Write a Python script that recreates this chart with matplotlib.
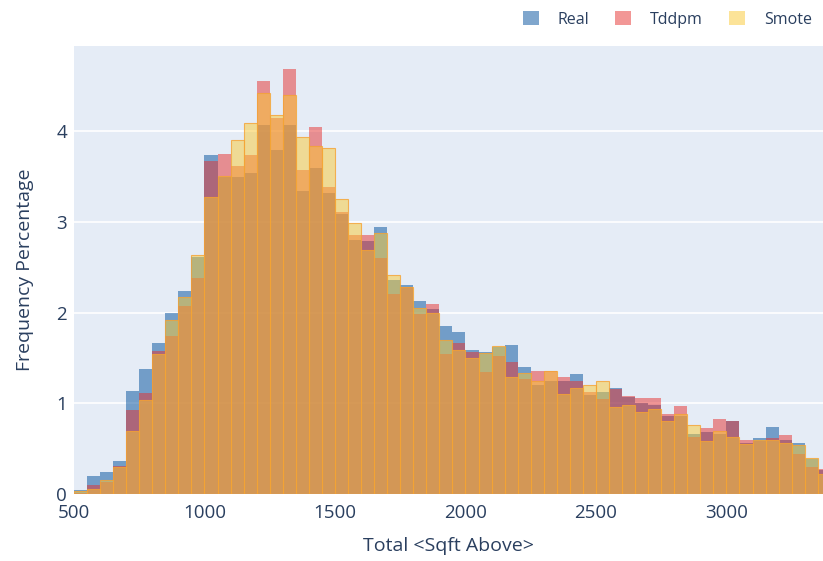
import numpy as np
import matplotlib
matplotlib.use("Agg")
import matplotlib.pyplot as plt
from matplotlib.patches import Patch

plt.rcParams['font.family'] = ['Open Sans', 'DejaVu Sans']

# bin edges (Total Sqft Above), width 50
bin_start = 500
bin_width = 50

# frequency percentage per bin
real = [0.04, 0.20, 0.24, 0.36, 1.14, 1.38, 1.67, 2.00, 2.24, 2.61,
        3.74, 3.50, 3.50, 3.54, 4.07, 3.79, 4.07, 3.34, 3.60, 3.32,
        3.09, 2.80, 2.79, 2.94, 2.36, 2.30, 2.13, 2.04, 1.85, 1.79,
        1.59, 1.57, 1.62, 1.64, 1.40, 1.20, 1.25, 1.25, 1.32, 1.09,
        1.13, 1.17, 1.07, 1.00, 0.98, 0.86, 0.86, 0.66, 0.68, 0.66,
        0.80, 0.56, 0.62, 0.74, 0.60, 0.56, 0.39, 0.26]
tddpm = [0.01, 0.10, 0.135, 0.31, 0.93, 1.11, 1.58, 1.74, 2.07, 2.38,
         3.67, 3.75, 3.62, 3.74, 4.55, 4.15, 4.69, 3.57, 4.05, 3.38,
         3.11, 2.86, 2.86, 2.60, 2.20, 2.28, 1.98, 2.10, 1.54, 1.66,
         1.57, 1.35, 1.52, 1.46, 1.27, 1.36, 1.36, 1.29, 1.25, 1.12,
         1.05, 1.16, 1.08, 1.06, 1.06, 0.88, 0.97, 0.63, 0.73, 0.83,
         0.80, 0.60, 0.58, 0.62, 0.65, 0.44, 0.30, 0.28]
smote = [0.03, 0.05, 0.155, 0.30, 0.70, 1.04, 1.545, 1.92, 2.17, 2.63,
         3.27, 3.51, 3.90, 4.09, 4.42, 4.18, 4.40, 3.94, 3.84, 3.81,
         3.25, 2.99, 2.69, 2.88, 2.42, 2.28, 2.05, 2.00, 1.70, 1.59,
         1.50, 1.555, 1.63, 1.29, 1.33, 1.25, 1.355, 1.10, 1.17, 1.20,
         1.25, 0.96, 0.98, 0.90, 0.94, 0.80, 0.88, 0.76, 0.58, 0.69,
         0.63, 0.55, 0.60, 0.60, 0.56, 0.54, 0.40, 0.22]

names = ['Real', 'Tddpm', 'Smote']
colors = [(0.0, 0.31, 0.61), (0.90, 0.19, 0.18), (0.98, 0.79, 0.20)]
text_color = '#2a3f5f'

edges = bin_start + bin_width * np.arange(len(real))

fig = plt.figure(figsize=(8.23, 5.61), dpi=100)
ax = fig.add_axes([74 / 823, 67 / 561, 749 / 823, 448 / 561])
ax.set_facecolor('#e5ecf6')

for vals, c, name in zip([real, tddpm, smote], colors, names):
    if name == 'Smote':
        ec = (0.96, 0.64, 0.2, 0.8)
        lw = 0.8
    else:
        ec = 'none'
        lw = 0
    ax.bar(edges, vals, width=bin_width, align='edge',
           facecolor=(*c, 0.5), edgecolor=ec, linewidth=lw, zorder=2)

ax.set_xlim(500, 3370)
ax.set_ylim(0, 4.94)
ax.set_xticks([500, 1000, 1500, 2000, 2500, 3000])
ax.set_yticks([0, 1, 2, 3, 4])
ax.grid(axis='y', color='white', linewidth=1.2)
ax.grid(axis='x', visible=False)
ax.set_axisbelow(True)
for s in ax.spines.values():
    s.set_visible(False)
ax.tick_params(length=0, labelsize=13.5, labelcolor=text_color)
ax.tick_params(axis='y', pad=5)
ax.tick_params(axis='x', pad=7)

ax.set_xlabel('Total <Sqft Above>', fontsize=14, color=text_color, labelpad=11)
ax.set_ylabel('Frequency Percentage', fontsize=14, color=text_color, labelpad=16)

handles = [Patch(facecolor=(*c, 0.5), edgecolor='none') for c in colors]
fig.legend(handles, names, loc='upper right', bbox_to_anchor=(1.0, 1.0),
           ncol=3, frameon=False, fontsize=11.5, labelcolor=text_color,
           handlelength=1.0, handleheight=1.0, handletextpad=1.2,
           columnspacing=1.6, borderaxespad=0.3)

fig.savefig('out.png', dpi=100)
